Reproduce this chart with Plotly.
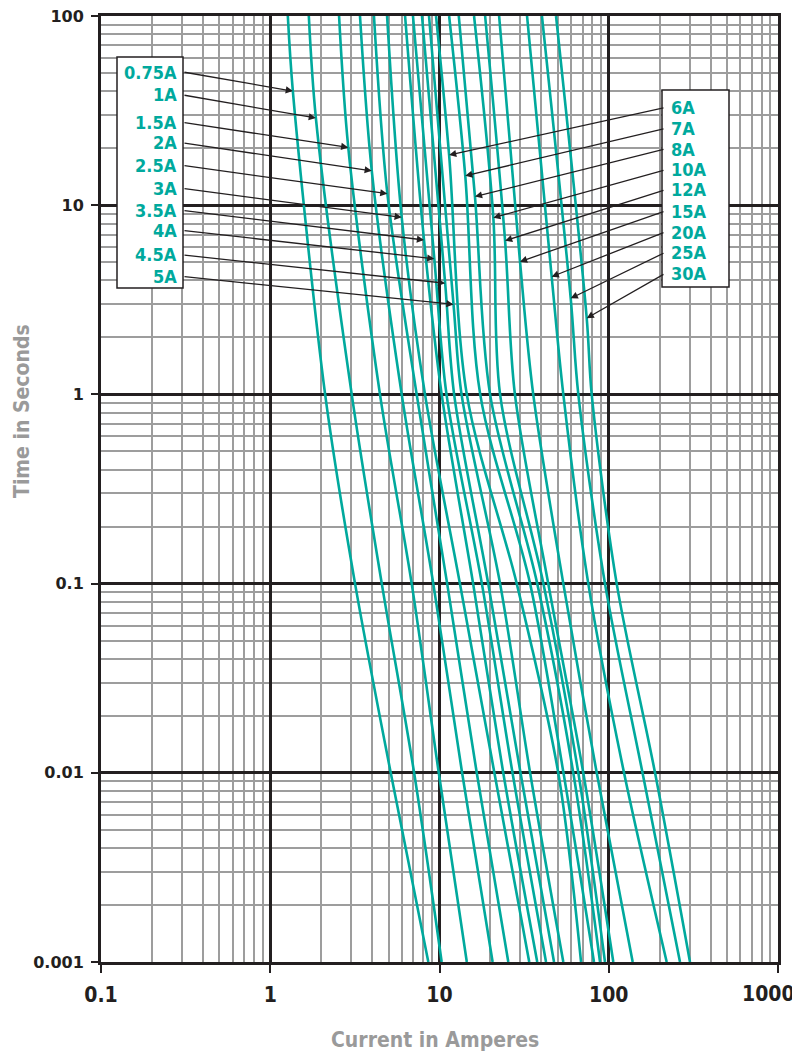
import math
import plotly.graph_objects as go

# ---------------- data ----------------
ratings = ["0.75A", "1A", "1.5A", "2A", "2.5A", "3A", "3.5A", "4A", "4.5A", "5A",
           "6A", "7A", "8A", "10A", "12A", "15A", "20A", "25A", "30A"]

# current (A) at which each curve crosses the given time
amps_at_100s = [1.27, 1.69, 2.55, 3.39, 4.10, 4.90, 6.26, 6.97, 7.88, 8.67,
                9.54, 11.4, 13.0, 16.0, 18.6, 22.5, 32.9, 40.3, 48.8]
amps_at_1s = [2.11, 3.03, 4.45, 5.98, 7.33, 8.21, 10.3, 11.0, 12.2, 13.5,
              14.5, 17.4, 19.9, 22.8, 27.9, 35.8, 53.9, 66.1, 79.3]
amps_at_0p1s = [3.17, 4.56, 6.85, 9.19, 11.1, 13.2, 15.8, 17.8, 19.4, 22.8,
                28.6, 34.3, 37.8, 41.1, 43.9, 53.9, 75.7, 95.0, 111.4]
amps_at_0p01s = [5.15, 7.08, 9.90, 13.6, 16.6, 21.1, 23.8, 27.0, 30.1, 34.3,
                 50.3, 54.0, 61.7, 66.1, 70.7, 84.9, 123.1, 158.3, 187.7]
amps_at_0p001s = [8.59, 10.3, 14.5, 20.6, 25.5, 33.9, 37.8, 42.6, 47.5, 53.9,
                  68.6, 81.8, 88.8, 95.0, 106.4, 138.5, 220.0, 263.6, 302.0]

# points the label arrows point at
arrow_amps = [1.36, 1.86, 2.89, 3.98, 4.92, 5.98, 8.10, 9.32, 10.8, 12.1,
              11.4, 14.2, 16.2, 20.8, 24.4, 29.9, 46.0, 59.6, 74.1]
arrow_secs = [40.1, 28.9, 20.2, 15.2, 11.5, 8.63, 6.55, 5.21, 3.87, 2.99,
              18.4, 14.3, 11.1, 8.59, 6.49, 5.03, 4.19, 3.22, 2.53]

x_ticks = [0.1, 1, 10, 100, 1000]
x_tick_text = ["0.1", "1", "10", "100", "1000"]
y_ticks = [0.001, 0.01, 0.1, 1, 10, 100]
y_tick_text = ["0.001", "0.01", "0.1", "1", "10", "100"]

# ---------------- styling ----------------
TEAL = "#00a99d"
BLACK = "#231f20"
GRAY = "#9d9d9d"
TITLE_GRAY = "#9a9a9a"

PAGE_OFF = 8                       # default body margin of the html page
W, H = 800 - PAGE_OFF, 1053 - PAGE_OFF
PLOT_L, PLOT_R, PLOT_T, PLOT_B = 101, 778, 16, 962   # page pixels
L, T = PLOT_L - PAGE_OFF, PLOT_T - PAGE_OFF
R, B = 800 - PLOT_R, 1053 - PLOT_B
PW, PH = PLOT_R - PLOT_L, PLOT_B - PLOT_T


def px_to_paper(px, py):
    return (px - PLOT_L) / PW, (PLOT_B - py) / PH


fig = go.Figure()

for i, name in enumerate(ratings):
    pts = [(amps_at_100s[i], 100), (arrow_amps[i], arrow_secs[i]),
           (amps_at_1s[i], 1), (amps_at_0p1s[i], 0.1),
           (amps_at_0p01s[i], 0.01), (amps_at_0p001s[i], 0.001)]
    pts.sort(key=lambda p: -p[1])
    fig.add_trace(go.Scatter(
        x=[p[0] for p in pts], y=[p[1] for p in pts],
        mode="lines", name=name,
        line=dict(color=TEAL, width=2.6, shape="spline", smoothing=0.9),
        showlegend=False, hoverinfo="skip"))

minor_x = [m * 10 ** e for e in range(-1, 3) for m in range(2, 10)]
minor_y = [m * 10 ** e for e in range(-3, 2) for m in range(2, 10)]

XTICK_FONT = dict(family="DejaVu Sans Condensed", size=21, color=BLACK,
                  weight="bold")

# the last x label sits at the page edge: drawn as right-anchored text
axis_tick_text = x_tick_text[:-1] + [""]

fig.update_layout(
    width=W, height=H,
    margin=dict(l=L, r=R, t=T, b=B, autoexpand=False),
    paper_bgcolor="white", plot_bgcolor="white",
    showlegend=False,
    xaxis=dict(
        type="log", range=[-1, 3], automargin=False,
        ticklabeloverflow="allow", ticklabelstandoff=4,
        tickmode="array", tickvals=x_ticks, ticktext=axis_tick_text,
        showgrid=True, gridcolor=BLACK, gridwidth=3,
        minor=dict(tickmode="array", tickvals=minor_x, showgrid=True,
                   gridcolor=GRAY, gridwidth=1.5, ticks=""),
        showline=True, linecolor=BLACK, linewidth=3, mirror=True,
        ticks="outside", ticklen=8, tickwidth=2, tickcolor=BLACK,
        tickfont=XTICK_FONT,
        zeroline=False),
    yaxis=dict(
        type="log", range=[-3, 2], automargin=False,
        ticklabeloverflow="allow",
        tickmode="array", tickvals=y_ticks, ticktext=y_tick_text,
        showgrid=True, gridcolor=BLACK, gridwidth=3,
        minor=dict(tickmode="array", tickvals=minor_y, showgrid=True,
                   gridcolor=GRAY, gridwidth=1.5, ticks=""),
        showline=True, linecolor=BLACK, linewidth=3, mirror=True,
        ticks="outside", ticklen=7, tickwidth=2, tickcolor=BLACK,
        ticklabelstandoff=4,
        tickfont=dict(family="DejaVu Sans", size=16, color=BLACK,
                      weight="bold"),
        zeroline=False),
)

# label boxes
for (x0, y0, x1, y1) in [(117, 57, 183, 288), (662, 90, 729, 287)]:
    a0, b0 = px_to_paper(x0, y1)
    a1, b1 = px_to_paper(x1, y0)
    fig.add_shape(type="rect", xref="paper", yref="paper",
                  x0=a0, y0=b0, x1=a1, y1=b1,
                  fillcolor="white", line=dict(color=BLACK, width=1.5),
                  layer="above")

left_label_py = [72, 95, 122.5, 143, 165.5, 188.5, 210.5, 230.5, 255, 276.5]
right_label_py = [107.5, 128.5, 149, 170, 190, 211, 232, 252.5, 273.5]

anns = []
for i, name in enumerate(ratings):
    if i < 10:
        py = left_label_py[i]
        tx, anchor, tail_px = 179, "right", 183
    else:
        py = right_label_py[i - 10]
        tx, anchor, tail_px = 669, "left", 665
    px_, py_ = px_to_paper(tx, py)
    anns.append(dict(text=name, x=px_, y=py_, xref="paper", yref="paper",
                     xanchor=anchor, yanchor="middle", showarrow=False,
                     font=dict(family="DejaVu Sans Condensed", size=18,
                               color=TEAL, weight="bold")))
    tail_lx = (tail_px - PLOT_L) / (PW / 4) - 1
    tail_ly = 2 - (py - PLOT_T) / (PH / 5)
    anns.append(dict(text="", x=math.log10(arrow_amps[i]),
                     y=math.log10(arrow_secs[i]), xref="x", yref="y",
                     axref="x", ayref="y", ax=tail_lx, ay=tail_ly,
                     showarrow=True, arrowhead=2, arrowsize=1.1,
                     arrowwidth=1.3, arrowcolor=BLACK, standoff=0))

# last x tick label, kept inside the page
lx, ly = px_to_paper(796, 994)
anns.append(dict(text=x_tick_text[-1], x=lx, y=ly, xref="paper", yref="paper",
                 xanchor="right", yanchor="middle", showarrow=False,
                 borderpad=0, font=XTICK_FONT))

tx_, ty_ = px_to_paper(435, 1040)
anns.append(dict(text="Current in Amperes", x=tx_, y=ty_, xref="paper",
                 yref="paper", showarrow=False, xanchor="center",
                 yanchor="middle",
                 font=dict(family="DejaVu Sans Condensed", size=21,
                           color=TITLE_GRAY, weight="bold")))
tx_, ty_ = px_to_paper(22, 411)
anns.append(dict(text="Time in Seconds", x=tx_, y=ty_, xref="paper",
                 yref="paper", showarrow=False, textangle=-90,
                 xanchor="center", yanchor="middle",
                 font=dict(family="DejaVu Sans Condensed", size=21,
                           color=TITLE_GRAY, weight="bold")))
fig.update_layout(annotations=anns)

fig.write_html("out.html")
